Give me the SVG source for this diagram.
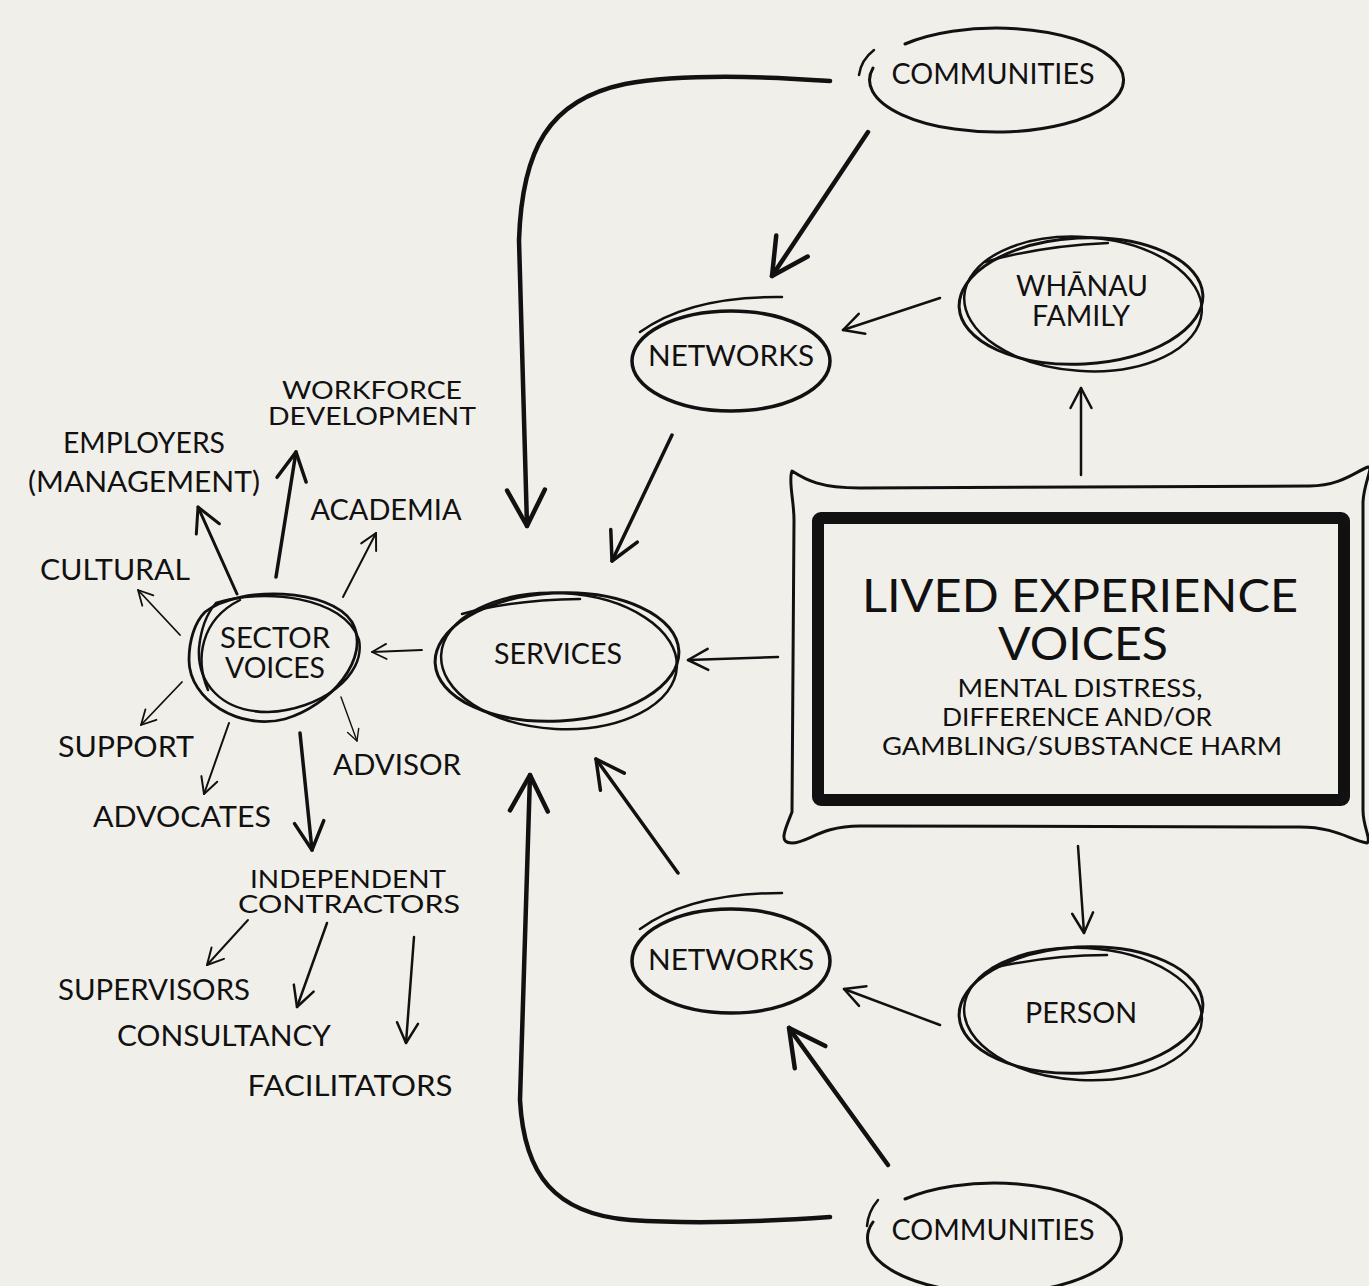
<svg xmlns="http://www.w3.org/2000/svg" width="1369" height="1286" viewBox="0 0 1369 1286">
<style>
.bg{fill:#f1efea}
.ln{fill:none;stroke:#111;stroke-linecap:round;stroke-linejoin:round}
.t{font-family:Lato,"Liberation Sans",sans-serif;fill:#111;text-anchor:middle;font-size:28px}
.big{font-size:46px}
.sub{font-size:25px}
.sm{font-size:25px}
</style>
<defs>
<marker id="ah" markerUnits="strokeWidth" markerWidth="12" markerHeight="12" refX="8" refY="5" orient="auto" overflow="visible">
<path d="M0 0.8 L8 5 L0 9.2" fill="none" stroke="#111" stroke-width="1" stroke-linecap="round" stroke-linejoin="round"/>
</marker>
</defs>
<rect class="bg" x="0" y="0" width="1369" height="1286"/>

<g id="connectors">
<path class="ln" stroke-width="4.5" marker-end="url(#ah)" d="M830 81 C760 76 680 74 625 84 C548 100 522 150 519 240 L527 526"/>
<path class="ln" stroke-width="4.5" marker-end="url(#ah)" d="M868 132 L772 276"/>
<path class="ln" stroke-width="2.5" marker-end="url(#ah)" d="M940 298 L843 330"/>
<path class="ln" stroke-width="3.5" marker-end="url(#ah)" d="M672 435 L612 561"/>
<path class="ln" stroke-width="2.5" marker-end="url(#ah)" d="M1081 475 L1081 388"/>
<path class="ln" stroke-width="2.5" marker-end="url(#ah)" d="M778 657 L688 660"/>
<path class="ln" stroke-width="1.8" marker-end="url(#ah)" d="M422 650 L372 652"/>
<path class="ln" stroke-width="2.5" marker-end="url(#ah)" d="M1078 846 L1084 933"/>
<path class="ln" stroke-width="2.5" marker-end="url(#ah)" d="M940 1025 L844 989"/>
<path class="ln" stroke-width="3.5" marker-end="url(#ah)" d="M678 873 L596 759"/>
<path class="ln" stroke-width="4.5" marker-end="url(#ah)" d="M888 1165 L789 1028"/>
<path class="ln" stroke-width="4.5" marker-end="url(#ah)" d="M830 1217 C760 1222 690 1224 630 1220 C555 1214 524 1175 520 1100 L530 775"/>
<path class="ln" stroke-width="3.5" marker-end="url(#ah)" d="M276 577 L296 452"/>
<path class="ln" stroke-width="3" marker-end="url(#ah)" d="M237 594 L198 507"/>
<path class="ln" stroke-width="2" marker-end="url(#ah)" d="M343 597 L376 533"/>
<path class="ln" stroke-width="1.8" marker-end="url(#ah)" d="M180 635 L138 590"/>
<path class="ln" stroke-width="1.8" marker-end="url(#ah)" d="M182 682 L141 725"/>
<path class="ln" stroke-width="2" marker-end="url(#ah)" d="M229 723 L204 794"/>
<path class="ln" stroke-width="1.4" marker-end="url(#ah)" d="M341 697 L357 741"/>
<path class="ln" stroke-width="3.5" marker-end="url(#ah)" d="M300 733 L312 850"/>
<path class="ln" stroke-width="2" marker-end="url(#ah)" d="M248 920 L207 965"/>
<path class="ln" stroke-width="2.5" marker-end="url(#ah)" d="M327 923 L297 1007"/>
<path class="ln" stroke-width="2.5" marker-end="url(#ah)" d="M414 937 L406 1043"/>
</g>

<g id="lived-experience">
<path class="ln" stroke-width="3" d="M792 471 C806 480 820 488 860 488 L1310 486 C1340 486 1355 472 1368 467 C1374 466 1364 482 1363 502 L1363 810 C1363 828 1372 840 1367 843 C1350 840 1335 827 1300 827 L860 826 C820 826 808 843 792 843 C778 843 785 830 792 812 L794 520 C794 500 788 480 792 471 Z"/>
<rect x="818" y="518" width="526" height="282" rx="3" fill="none" stroke="#111" stroke-width="12"/>
<text class="t big"><tspan x="1080" y="612" textLength="436" lengthAdjust="spacingAndGlyphs">LIVED EXPERIENCE</tspan><tspan x="1083" y="660" textLength="170" lengthAdjust="spacingAndGlyphs">VOICES</tspan></text>
<text class="t sub"><tspan x="1080" y="697" textLength="245" lengthAdjust="spacingAndGlyphs">MENTAL DISTRESS,</tspan><tspan x="1077" y="726" textLength="270" lengthAdjust="spacingAndGlyphs">DIFFERENCE AND/OR</tspan><tspan x="1082" y="755" textLength="400" lengthAdjust="spacingAndGlyphs">GAMBLING/SUBSTANCE HARM</tspan></text>
</g>

<g id="communities-top">
<path class="ln" stroke-width="3" d="M873 68 A127 52 0 1 0 905 44"/>
<path class="ln" stroke-width="2.5" d="M859 75 Q861 60 874 50"/>
<text class="t" x="993" y="84" textLength="203" lengthAdjust="spacingAndGlyphs">COMMUNITIES</text>
</g>

<g id="communities-bottom">
<path class="ln" stroke-width="3" d="M873 1222 A127 55 0 1 0 905 1199"/>
<path class="ln" stroke-width="2.5" d="M867 1226 Q868 1212 878 1200"/>
<text class="t" x="993" y="1240" textLength="203" lengthAdjust="spacingAndGlyphs">COMMUNITIES</text>
</g>

<g id="networks-top">
<ellipse cx="731" cy="361" rx="99" ry="50" class="ln" stroke-width="3.5"/>
<path class="ln" stroke-width="2.5" d="M640 332 Q690 296 782 297"/>
<text class="t" x="731" y="366" textLength="166" lengthAdjust="spacingAndGlyphs">NETWORKS</text>
</g>

<g id="networks-bottom">
<ellipse cx="731" cy="961" rx="99" ry="52" class="ln" stroke-width="3.5"/>
<path class="ln" stroke-width="2.5" d="M640 929 Q690 893 782 893"/>
<text class="t" x="731" y="970" textLength="166" lengthAdjust="spacingAndGlyphs">NETWORKS</text>
</g>

<g id="whanau">
<ellipse cx="1081" cy="301" rx="122" ry="63" transform="rotate(-3 1081 301)" class="ln" stroke-width="3"/>
<ellipse cx="1083" cy="304" rx="119" ry="67" transform="rotate(4 1083 304)" class="ln" stroke-width="2.5"/>
<path class="ln" stroke-width="2.5" d="M985 262 Q1040 246 1108 243"/>
<text class="t"><tspan x="1082" y="296" textLength="132" lengthAdjust="spacingAndGlyphs">WHĀNAU</tspan><tspan x="1081" y="326" textLength="98" lengthAdjust="spacingAndGlyphs">FAMILY</tspan></text>
</g>

<g id="person">
<ellipse cx="1081" cy="1010" rx="122" ry="63" transform="rotate(-3 1081 1010)" class="ln" stroke-width="3"/>
<ellipse cx="1083" cy="1014" rx="119" ry="66" transform="rotate(3 1083 1014)" class="ln" stroke-width="2.5"/>
<path class="ln" stroke-width="2.5" d="M992 968 Q1050 955 1107 955"/>
<text class="t" x="1081" y="1023" textLength="112" lengthAdjust="spacingAndGlyphs">PERSON</text>
</g>

<g id="services">
<ellipse cx="557" cy="657" rx="122" ry="64" transform="rotate(-3 557 657)" class="ln" stroke-width="3"/>
<ellipse cx="559" cy="661" rx="118" ry="68" transform="rotate(3 559 661)" class="ln" stroke-width="2.5"/>
<path class="ln" stroke-width="2.5" d="M462 614 Q510 600 580 599"/>
<text class="t" x="558" y="664" textLength="128" lengthAdjust="spacingAndGlyphs">SERVICES</text>
</g>

<g id="sector-voices">
<path class="ln" stroke-width="2.8" d="M205 612 C240 585 330 588 352 622 C372 658 330 706 285 719 C240 731 189 700 189 660 C189 640 195 622 205 612 Z"/>
<path class="ln" stroke-width="2.5" d="M216 603 C262 588 345 596 359 640 C366 676 320 710 268 712 C220 712 197 682 199 648 C201 628 208 612 216 603 Z"/>
<path class="ln" stroke-width="2.5" d="M208 690 C195 660 200 620 240 600"/>
<text class="t"><tspan x="275" y="648" textLength="110" lengthAdjust="spacingAndGlyphs">SECTOR</tspan><tspan x="275" y="678" textLength="100" lengthAdjust="spacingAndGlyphs">VOICES</tspan></text>
</g>

<g id="workforce">
<text class="t sm"><tspan x="372" y="399" textLength="180" lengthAdjust="spacingAndGlyphs">WORKFORCE</tspan><tspan x="372" y="425" textLength="208" lengthAdjust="spacingAndGlyphs">DEVELOPMENT</tspan></text>
</g>
<g id="employers">
<text class="t"><tspan x="144" y="453" textLength="162" lengthAdjust="spacingAndGlyphs">EMPLOYERS</tspan><tspan x="144" y="492" textLength="232" lengthAdjust="spacingAndGlyphs">(MANAGEMENT)</tspan></text>
</g>
<g id="academia"><text class="t" x="386" y="520" textLength="151" lengthAdjust="spacingAndGlyphs">ACADEMIA</text></g>
<g id="cultural"><text class="t" x="115" y="580" textLength="150" lengthAdjust="spacingAndGlyphs">CULTURAL</text></g>
<g id="support"><text class="t" x="126" y="757" textLength="136" lengthAdjust="spacingAndGlyphs">SUPPORT</text></g>
<g id="advocates"><text class="t" x="182" y="827" textLength="178" lengthAdjust="spacingAndGlyphs">ADVOCATES</text></g>
<g id="advisor"><text class="t" x="397" y="775" textLength="128" lengthAdjust="spacingAndGlyphs">ADVISOR</text></g>
<g id="independent">
<text class="t sm"><tspan x="348" y="888" textLength="196" lengthAdjust="spacingAndGlyphs">INDEPENDENT</tspan><tspan x="349" y="913" textLength="222" lengthAdjust="spacingAndGlyphs">CONTRACTORS</tspan></text>
</g>
<g id="supervisors"><text class="t" x="154" y="1000" textLength="192" lengthAdjust="spacingAndGlyphs">SUPERVISORS</text></g>
<g id="consultancy"><text class="t" x="224" y="1046" textLength="214" lengthAdjust="spacingAndGlyphs">CONSULTANCY</text></g>
<g id="facilitators"><text class="t" x="350" y="1096" textLength="205" lengthAdjust="spacingAndGlyphs">FACILITATORS</text></g>
</svg>
